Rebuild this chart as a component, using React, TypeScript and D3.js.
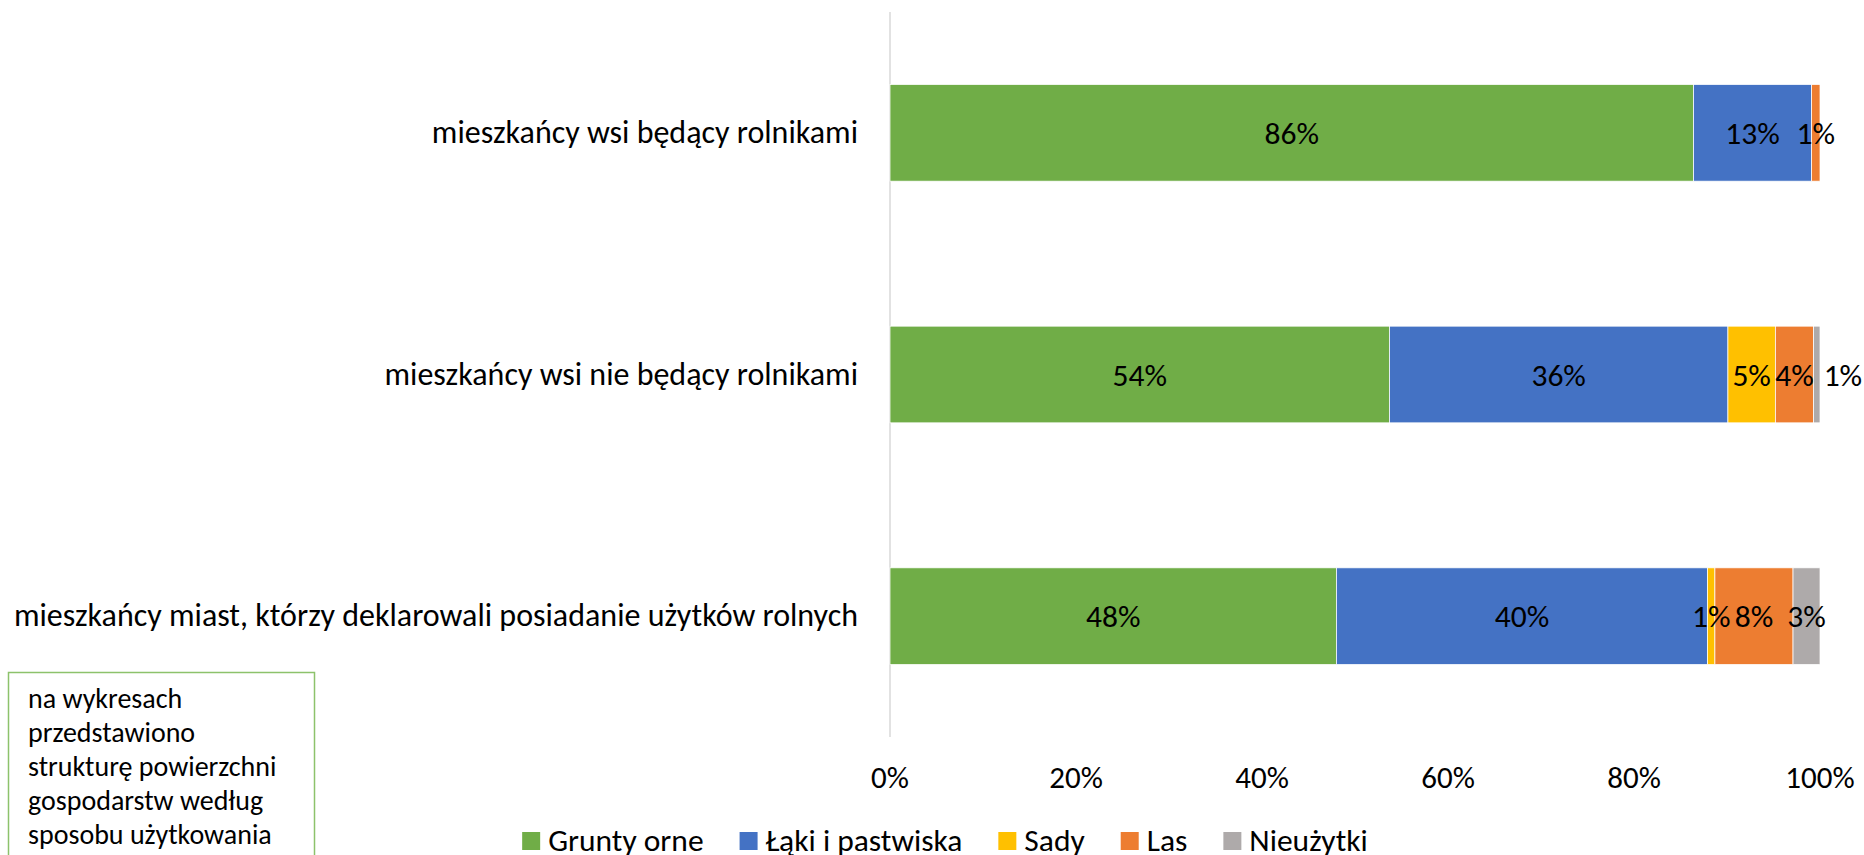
import React, { useEffect, useRef } from 'react';
import * as d3 from 'd3';

const categories = [
  'mieszkańcy wsi będący rolnikami',
  'mieszkańcy wsi nie będący rolnikami',
  'mieszkańcy miast, którzy deklarowali posiadanie użytków rolnych',
];
const seriesNames = ['Grunty orne', 'Łąki i pastwiska', 'Sady', 'Las', 'Nieużytki'];
const seriesColors = ['#70AD47', '#4472C4', '#FFC000', '#ED7D31', '#AEAAAA'];
const gruntyOrne = [86.4, 53.7, 48.0];
const lakiIPastwiska = [12.7, 36.4, 39.9];
const sady = [0, 5.1, 0.8];
const las = [0.9, 4.1, 8.4];
const nieuzytki = [0, 0.7, 2.9];
const tickValues = [0, 20, 40, 60, 80, 100];
const noteLines = [
  'na wykresach',
  'przedstawiono',
  'strukturę powierzchni',
  'gospodarstw według',
  'sposobu użytkowania',
];

const FONT = 'Carlito, Calibri, Lato, sans-serif';
const W = 1864;
const H = 855;

export default function App() {
  const ref = useRef<SVGSVGElement>(null);

  useEffect(() => {
    const svg = d3.select(ref.current);
    svg.selectAll('*').remove();

    const seriesValues = [gruntyOrne, lakiIPastwiska, sady, las, nieuzytki];
    const rows = categories.map((c, i) => {
      const r: any = { category: c };
      seriesNames.forEach((s, j) => (r[s] = seriesValues[j][i]));
      return r;
    });
    const stack = d3.stack<any>().keys(seriesNames);
    const stacked = stack(rows);

    const x = d3.scaleLinear().domain([0, 100]).range([890, 1820]);
    const y = d3
      .scaleBand<string>()
      .domain(categories)
      .range([12, 737])
      .paddingInner(0.6)
      .paddingOuter(0.3);

    // axis line
    svg
      .append('line')
      .attr('x1', x(0))
      .attr('x2', x(0))
      .attr('y1', 12)
      .attr('y2', 737)
      .attr('stroke', '#D9D9D9')
      .attr('stroke-width', 1.5);

    // bars
    const g = svg.append('g');
    stacked.forEach((layer, j) => {
      g.append('g')
        .attr('fill', seriesColors[j])
        .selectAll('rect')
        .data(layer)
        .join('rect')
        .attr('x', (d) => x(d[0]))
        .attr('width', (d) => x(d[1]) - x(d[0]))
        .attr('y', (d: any) => y(d.data.category)!)
        .attr('height', y.bandwidth())
        .attr('stroke', '#ffffff')
        .attr('stroke-width', 0.75);
    });

    // data labels
    const lg = svg.append('g').attr('font-family', FONT).attr('font-size', 31.5).attr('fill', '#000');
    categories.forEach((c, i) => {
      let prevRight = -Infinity;
      const cy = y(c)! + y.bandwidth() / 2;
      stacked.forEach((layer) => {
        const d = layer[i];
        const v = d[1] - d[0];
        if (v <= 0) return;
        const t = lg
          .append('text')
          .text(`${Math.round(v)}%`)
          .attr('y', cy + 11);
        const w = (t.node() as SVGTextElement).getComputedTextLength();
        let left = (x(d[0]) + x(d[1])) / 2 - w / 2;
        if (left < prevRight) left = prevRight + 10;
        t.attr('x', left);
        prevRight = left + w;
      });
    });

    // category labels
    svg
      .append('g')
      .attr('font-family', FONT)
      .attr('font-size', 32)
      .attr('text-anchor', 'end')
      .selectAll('text')
      .data(categories)
      .join('text')
      .attr('x', 858)
      .attr('y', (d) => y(d)! + y.bandwidth() / 2 + 10)
      .text((d) => d);

    // tick labels
    svg
      .append('g')
      .attr('font-family', FONT)
      .attr('font-size', 31)
      .attr('text-anchor', 'middle')
      .selectAll('text')
      .data(tickValues)
      .join('text')
      .attr('x', (d) => x(d))
      .attr('y', 788)
      .text((d) => `${d}%`);

    // note box
    svg
      .append('rect')
      .attr('x', 8.5)
      .attr('y', 672.5)
      .attr('width', 306)
      .attr('height', 250)
      .attr('fill', '#fff')
      .attr('stroke', '#8DC26B')
      .attr('stroke-width', 1.5);
    svg
      .append('g')
      .attr('font-family', FONT)
      .attr('font-size', 28)
      .selectAll('text')
      .data(noteLines)
      .join('text')
      .attr('x', 28)
      .attr('y', (_d, i) => 708 + i * 34)
      .text((d) => d);

    // legend
    const leg = svg.append('g').attr('font-family', FONT).attr('font-size', 31.5);
    const items = seriesNames.map((s, j) => {
      const it = leg.append('g');
      it.append('rect').attr('width', 18).attr('height', 18).attr('y', 832).attr('fill', seriesColors[j]);
      const t = it.append('text').attr('x', 26).attr('y', 851).text(s);
      const w = (t.node() as SVGTextElement).getComputedTextLength();
      return { it, w: 26 + w };
    });
    const gap = 36;
    const total = d3.sum(items, (d) => d.w) + gap * (items.length - 1);
    let cx = 945 - total / 2;
    items.forEach((d) => {
      d.it.attr('transform', `translate(${cx},0)`);
      cx += d.w + gap;
    });
  }, []);

  return (
    <svg
      ref={ref}
      width={W}
      height={H}
      style={{ position: 'absolute', left: 0, top: 0, display: 'block', background: '#fff' }}
    />
  );
}
